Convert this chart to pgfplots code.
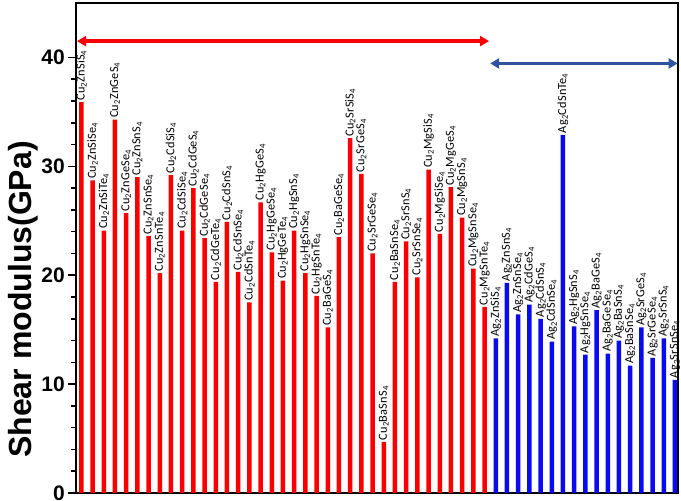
\documentclass[border=0pt]{standalone}
\usepackage{fontspec}
\setmainfont{Liberation Sans}
\newfontfamily\lab[LetterSpace=1.5]{Carlito}
\usepackage{pgfplots}
\usepackage{pgfplotstable}
\pgfplotsset{compat=1.18}
\usetikzlibrary{arrows.meta}
\newcommand\Cu[1]{Cu\textsubscript{2}#1\textsubscript{4}}
\newcommand\Ag[1]{Ag\textsubscript{2}#1\textsubscript{4}}
\definecolor{arrblue}{RGB}{46,84,160}
\definecolor{barred}{RGB}{250,0,0}
\definecolor{barblue}{RGB}{10,10,240}

\pgfplotstableread{
x y label
1 35.9 {\Cu{ZnSiS}}
2 28.7 {\Cu{ZnSiSe}}
3 24.1 {\Cu{ZnSiTe}}
4 34.3 {\Cu{ZnGeS}}
5 25.7 {\Cu{ZnGeSe}}
6 29.0 {\Cu{ZnSnS}}
7 23.6 {\Cu{ZnSnSe}}
8 20.2 {\Cu{ZnSnTe}}
9 29.2 {\Cu{CdSiS}}
10 24.1 {\Cu{CdSiSe}}
11 28.0 {\Cu{CdGeS}}
12 23.4 {\Cu{CdGeSe}}
13 19.4 {\Cu{CdGeTe}}
14 24.9 {\Cu{CdSnS}}
15 20.3 {\Cu{CdSnSe}}
16 17.5 {\Cu{CdSnTe}}
17 26.7 {\Cu{HgGeS}}
18 22.1 {\Cu{HgGeSe}}
19 19.5 {\Cu{HgGeTe}}
20 24.1 {\Cu{HgSnS}}
21 20.2 {\Cu{HgSnSe}}
22 18.1 {\Cu{HgSnTe}}
23 15.2 {\Cu{BaGeS}}
24 23.5 {\Cu{BaGeSe}}
25 32.6 {\Cu{SrSiS}}
26 29.3 {\Cu{SrGeS}}
27 22.0 {\Cu{SrGeSe}}
28 4.7 {\Cu{BaSnS}}
29 19.4 {\Cu{BaSnSe}}
30 23.1 {\Cu{SrSnS}}
31 19.8 {\Cu{SrSnSe}}
32 29.7 {\Cu{MgSiS}}
33 23.8 {\Cu{MgSiSe}}
34 28.1 {\Cu{MgGeS}}
35 25.3 {\Cu{MgSnS}}
36 20.6 {\Cu{MgSnSe}}
37 17.1 {\Cu{MgSnTe}}
}\cutab

\pgfplotstableread{
x y label
38 14.2 {\Ag{ZnSiS}}
39 19.3 {\Ag{ZnSnS}}
40 16.4 {\Ag{ZnSnSe}}
41 17.3 {\Ag{CdGeS}}
42 16.0 {\Ag{CdSnS}}
43 13.9 {\Ag{CdSnSe}}
44 32.9 {\Ag{CdSnTe}}
45 15.3 {\Ag{HgSnS}}
46 12.7 {\Ag{HgSnSe}}
47 16.8 {\Ag{BaGeS}}
48 12.8 {\Ag{BaGeSe}}
49 14.0 {\Ag{BaSnS}}
50 11.7 {\Ag{BaSnSe}}
51 15.2 {\Ag{SrGeS}}
52 12.4 {\Ag{SrGeSe}}
53 14.2 {\Ag{SrSnS}}
54 10.4 {\Ag{SrSnSe}}
}\agtab

\begin{document}
\begin{tikzpicture}
\begin{axis}[
  scale only axis, width=602pt, height=490pt,
  xmin=0.52, xmax=54.27, ymin=0, ymax=45,
  xtick=\empty, ytick={0,10,20,30,40}, minor y tick num=4,
  ytick pos=left, tick align=outside,
  major tick length=8pt, minor tick length=5pt,
  every tick/.style={black, line width=1.5pt},
  axis line style={black, line width=2pt},
  /pgf/number format/assume math mode=true,
  yticklabel style={font=\fontsize{21}{24}\selectfont\bfseries, inner sep=3pt},
  ylabel={Shear modulus(GPa)},
  every axis y label/.style={at={(axis description cs:0,0.395)}, xshift=-53pt, rotate=90, anchor=center, font=\fontsize{32}{38}\selectfont\bfseries},
  clip=false,
  nodes near coords, point meta=explicit symbolic,
  every node near coord/.append style={rotate=90, anchor=west, font=\lab\fontsize{12.3}{14}\selectfont, inner sep=1.5pt, text=black},
]
\addplot[ybar, bar width=4.5pt, bar shift=0pt, fill=barred, draw=none] table[x=x,y=y,meta=label]{\cutab};
\addplot[ybar, bar width=4.5pt, bar shift=0pt, fill=barblue, draw=none] table[x=x,y=y,meta=label]{\agtab};
\draw[barred, line width=3.5pt, {Triangle[length=9pt,width=10pt]}-{Triangle[length=9pt,width=10pt]}] (axis cs:0.61,41.5) -- (axis cs:37.4,41.5);
\draw[arrblue, line width=3.5pt, {Triangle[length=9pt,width=10pt]}-{Triangle[length=9pt,width=10pt]}] (axis cs:37.5,39.45) -- (axis cs:54.24,39.45);
\end{axis}
\pgfresetboundingbox
\path ([xshift=-76pt,yshift=-8pt]current axis.south west) rectangle ([xshift=3pt,yshift=3pt]current axis.north east);
\end{tikzpicture}
\end{document}
